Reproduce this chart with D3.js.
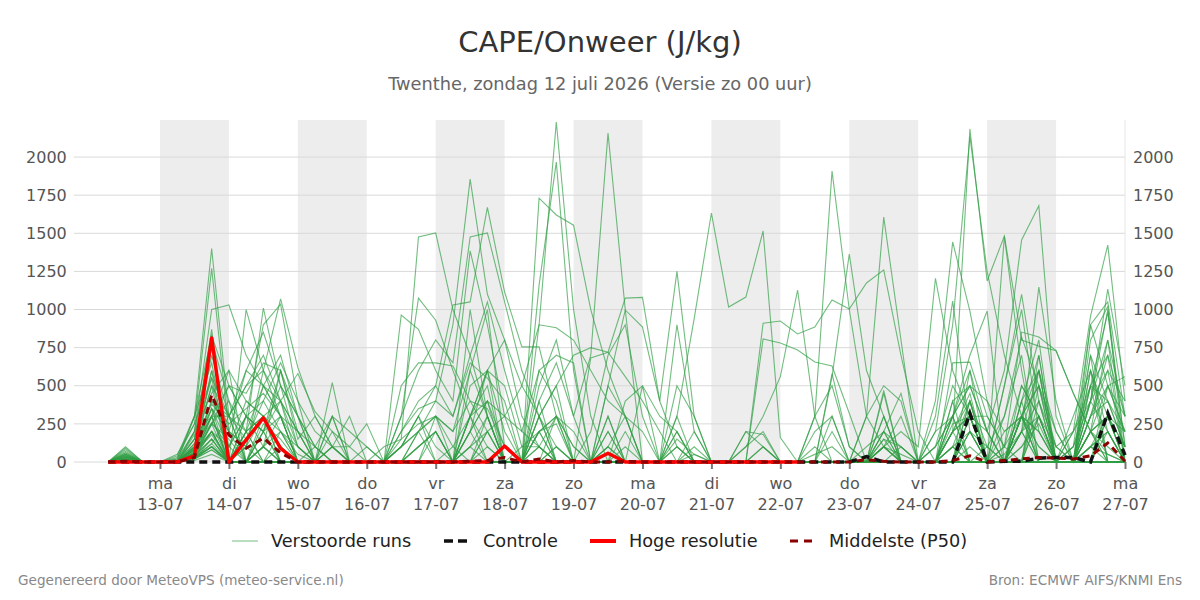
<!DOCTYPE html>
<html><head><meta charset="utf-8">
<script src="https://cdn.jsdelivr.net/npm/d3@7"></script>
<style>body{margin:0;background:#fff}svg{display:block;font-family:"DejaVu Sans",sans-serif}</style>
</head><body><svg id="c" width="1200" height="600"></svg>
<script>
// ---------- data ----------
const title = "CAPE/Onweer (J/kg)";
const subtitle = "Twenthe, zondag 12 juli 2026 (Versie zo 00 uur)";
const footerLeft = "Gegenereerd door MeteoVPS (meteo-service.nl)";
const footerRight = "Bron: ECMWF AIFS/KNMI Ens";
const legendLabels = ["Verstoorde runs", "Controle", "Hoge resolutie", "Middelste (P50)"];
const weekdays = ["zo","ma","di","wo","do","vr","za"];
const yTicks = [0,250,500,750,1000,1250,1500,1750,2000];
const startTime = Date.UTC(2026,6,12,6);   // first value: 12-07 06 uur, step 6 uur
const stepHours = 6;
const dayTicks = [13,14,15,16,17,18,19,20,21,22,23,24,25,26,27];
const shadedDays = [13,15,17,19,21,23,25];

// ensemble members (J/kg), 6-hourly, 12-07 06h .. 27-07 00h
const members = [
[0,100,0, 0,40,300,1400, 300,150,400,200, 50,0,100,0, 0,100,150,1476, 1502,1000,700,300, 0,0,200,300, 100,0,50,0, 0,0,150,50, 0,0,100,200, 0,0,50,100, 0,0,200,100, 0,0,100,400, 0,50,200,300, 0,0,300,500, 200],
[0,80,0, 0,30,250,1270, 200,600,850,500, 100,0,300,0, 0,0,300,1075, 930,600,300,100, 0,0,100,0, 0,0,500,300, 0,0,900,200, 0,0,0,100, 0,0,300,1908, 1000,300,100,50, 0,0,200,2183, 1187,1482,800,760, 730,450,200,100, 0],
[0,60,0, 0,20,200,1000, 1030,700,500,300, 200,100,0,0, 0,0,964,870, 600,400,1385,900, 300,0,0,100, 0,0,200,0, 0,0,0,50, 0,0,100,300, 560,1128,300,0, 0,0,100,300, 0,0,650,655, 300,100,500,300, 0,100,400,200, 0],
[0,50,0, 0,10,150,870, 0,1000,600,300, 0,0,0,0, 0,0,100,300, 500,1030,1050,1670, 1115,755,755,300, 0,0,0,0, 0,0,100,0, 0,0,0,0, 0,0,0,200, 0,0,100,200, 100,1205,600,300, 300,100,0,0, 0,0,200,500, 300],
[0,40,0, 0,20,300,830, 500,300,900,1035, 400,200,100,0, 0,0,0,200, 400,900,1855,1100, 800,300,100,0, 0,0,0,0, 0,0,300,940, 1633,1016,1082,1515, 160,0,0,0, 0,100,200,0, 0,0,0,300, 0,0,0,400, 100,200,957,1423, 400],
[0,30,0, 0,0,200,800, 400,200,1010,500, 300,0,0,0, 0,0,300,600, 800,650,1476,1502, 1050,600,300,100, 0,0,200,0, 0,0,0,0, 0,0,0,910, 925,840,885,1062, 1003,1174,1260,700, 200,0,0,100, 0,0,200,0, 0,0,100,50, 0],
[0,20,0, 0,0,150,700, 300,500,600,1070, 620,300,100,100, 0,0,100,300, 100,0,200,400, 100,0,1730,1620, 1553,1000,600,300, 0,0,100,0, 0,0,0,807, 780,735,656,630, 320,0,0,100, 0,0,0,200, 0,0,100,300, 0,0,100,200, 0],
[0,10,0, 0,0,100,600, 200,0,300,400, 0,0,300,0, 0,0,0,100, 200,0,1000,300, 0,0,900,2230, 1000,300,0,0, 0,0,0,0, 0,0,0,0, 0,0,0,0, 0,300,1606,800, 0,0,0,0, 0,1480,600,0, 0,0,0,0, 0],
[0,5,0, 0,0,80,500, 0,0,0,100, 0,0,0,0, 0,0,0,0, 300,200,600,1000, 100,0,1160,1967, 600,0,0,0, 0,0,0,200, 0,0,0,0, 0,0,0,0, 0,0,0,0, 0,0,0,300, 200,600,1456,1680, 300,0,0,0, 0],
[0,70,0, 0,0,300,650, 100,400,300,200, 0,0,520,0, 0,0,0,0, 0,0,300,600, 0,0,500,800, 300,700,2157,1000, 0,0,300,0, 0,0,0,0, 0,0,0,0, 0,0,0,0, 0,300,1055,200, 0,0,0,700, 0,0,400,1134, 500],
[0,90,0, 0,50,250,550, 0,200,500,700, 300,0,0,0, 0,0,0,0, 0,0,0,0, 0,0,0,0, 0,0,500,997, 885,400,1250,300, 0,0,0,0, 0,0,0,0, 0,0,300,0, 0,0,0,0, 0,0,0,0, 0,0,400,800, 0],
[0,40,0, 0,0,200,450, 600,400,300,0, 0,0,200,0, 0,0,100,200, 300,100,0,0, 0,0,300,500, 700,750,720,560, 400,200,0,0, 0,0,0,0, 0,0,0,0, 0,0,0,0, 0,100,300,500, 400,200,300,100, 0,0,0,300, 100],
[0,30,0, 0,0,100,400, 300,600,500,400, 200,0,0,0, 0,0,0,100, 200,0,500,600, 200,0,300,500, 0,0,0,0, 0,0,0,0, 0,0,0,0, 0,0,0,560, 1364,600,300,0, 0,200,900,2135, 1250,700,300,100, 0,0,100,300, 0],
[0,20,0, 0,0,120,350, 0,0,200,600, 200,0,0,0, 0,0,0,0, 0,0,0,0, 0,0,0,0, 0,682,720,1075, 1080,400,100,0, 0,0,0,0, 0,0,0,0, 0,0,0,0, 0,0,0,300, 0,500,1100,400, 0,300,600,0, 0],
[0,50,0, 0,0,180,300, 500,300,200,400, 100,0,0,0, 0,0,500,650, 650,630,400,200, 0,0,0,0, 0,0,0,0, 0,0,0,0, 0,0,0,0, 0,0,0,0, 0,0,100,0, 0,0,400,500, 200,0,300,0, 0,100,500,700, 300],
[0,10,0, 0,0,60,250, 500,450,650,600, 150,300,100,0, 0,0,200,350, 400,300,650,550, 400,0,200,300, 100,0,300,0, 0,0,0,0, 0,0,0,0, 0,0,0,0, 0,0,100,0, 0,0,0,200, 0,0,300,500, 100,0,200,300, 200],
[0,0,0, 0,0,50,200, 100,300,400,650, 400,0,0,0, 0,0,0,0, 0,0,100,200, 300,500,900,880, 800,600,400,300, 0,0,0,0, 0,0,0,0, 0,0,0,0, 0,0,0,0, 0,0,0,400, 100,300,820,500, 200,0,300,600, 0],
[0,0,0, 0,0,40,150, 0,0,200,300, 0,0,0,0, 0,0,0,0, 0,0,100,300, 0,0,0,0, 0,0,0,0, 0,0,0,0, 0,0,0,0, 0,0,0,0, 0,300,500,400, 0,0,200,400, 0,0,300,600, 0,0,900,1050, 300],
[0,0,0, 0,0,30,120, 300,0,100,0, 0,0,0,0, 0,0,0,0, 0,0,0,0, 0,0,0,0, 0,0,0,0, 0,0,0,0, 0,0,0,0, 0,0,0,0, 0,0,0,0, 0,400,1443,990, 400,0,200,1148, 400,0,0,300, 0],
[0,0,0, 0,0,20,100, 0,0,0,0, 0,0,0,0, 0,0,0,0, 0,0,300,500, 0,0,0,0, 0,0,0,0, 0,0,0,0, 0,0,0,0, 0,0,0,0, 0,0,0,0, 0,0,300,700, 990,0,0,0, 0,0,500,980, 100],
[0,0,0, 0,0,50,350, 200,100,300,0, 0,0,0,0, 0,0,0,0, 0,0,0,0, 0,0,400,650, 300,0,0,0, 0,0,0,0, 0,0,0,0, 0,0,0,0, 0,0,0,0, 0,0,0,0, 0,100,852,820, 730,452,200,50, 0],
[0,0,0, 0,0,80,300, 0,300,100,200, 0,0,0,0, 0,0,0,0, 0,0,0,0, 0,0,0,0, 0,0,0,0, 0,0,500,300, 0,0,0,0, 0,0,0,0, 0,0,0,0, 0,0,0,0, 0,0,0,0, 0,0,0,500, 560],
[0,0,0, 0,0,60,200, 0,0,0,0, 0,0,0,0, 0,0,0,0, 0,0,0,0, 0,0,0,0, 0,0,0,0, 0,0,0,0, 0,0,0,0, 0,0,0,0, 0,0,0,0, 0,0,300,500, 200,0,400,600, 0,0,200,800, 300],
[0,30,0, 0,0,100,500, 300,200,300,100, 0,0,100,0, 0,0,200,400, 500,300,700,1050, 600,200,100,0, 0,0,100,300, 200,0,0,0, 0,0,200,100, 0,0,0,0, 0,0,0,0, 0,0,100,200, 0,0,300,200, 0,200,500,400, 100],
[0,20,0, 0,0,90,300, 600,0,200,0, 0,0,0,0, 0,0,0,200, 300,0,200,600, 800,500,300,0, 0,200,700,900, 300,0,0,0, 0,0,0,0, 0,0,0,0, 0,0,100,0, 0,0,200,300, 0,0,0,0, 0,0,600,300, 0],
[0,10,0, 0,0,50,250, 0,100,500,300, 0,0,0,0, 0,0,0,0, 0,100,300,400, 0,0,0,0, 0,0,300,0, 0,0,0,0, 0,0,0,0, 0,0,0,580, 100,0,300,0, 0,0,0,0, 0,300,700,0, 0,0,200,300, 100],
[0,0,0, 0,0,30,100, 0,200,0,0, 0,0,0,0, 0,0,0,0, 0,0,200,400, 300,200,600,700, 650,0,0,0, 0,0,0,0, 0,0,0,0, 0,0,0,0, 0,0,0,0, 0,0,200,300, 0,0,500,300, 100,0,700,400, 200],
[0,0,0, 0,0,20,80, 0,0,100,0, 0,0,0,0, 0,0,0,0, 0,0,0,0, 0,0,100,300, 0,0,0,0, 500,0,0,0, 0,0,0,0, 0,0,0,0, 0,0,0,0, 0,0,400,0, 0,0,300,0, 0,0,500,0, 0],
[0,0,0, 0,0,60,400, 200,100,600,400, 580,330,200,100, 250,0,0,0, 0,0,300,0, 0,0,0,0, 0,0,100,0, 0,0,0,0, 0,0,200,180, 0,0,0,0, 0,0,0,0, 0,100,500,300, 0,0,200,400, 0,0,0,200, 0],
[0,0,0, 0,0,80,350, 100,300,200,500, 300,100,300,200, 100,0,0,0, 0,0,0,200, 0,0,300,0, 0,0,0,0, 0,0,0,0, 0,0,0,0, 0,0,0,0, 0,0,0,0, 0,0,0,600, 200,0,0,0, 0,0,100,0, 0],
[0,50,0, 0,0,100,300, 300,500,700,400, 200,0,100,300, 0,0,0,0, 0,0,0,0, 0,0,0,100, 0,0,0,0, 0,0,0,0, 0,0,0,0, 0,0,0,0, 0,0,150,0, 0,0,0,0, 0,0,300,200, 0,200,400,600, 400],
[0,30,0, 0,0,70,200, 0,0,0,0, 0,0,0,0, 0,0,0,0, 0,0,0,0, 0,100,200,0, 0,0,0,0, 0,0,0,0, 0,0,0,0, 0,0,200,300, 0,0,450,0, 0,0,100,0, 0,0,0,300, 0,0,400,1000, 0],
[0,20,0, 0,0,40,150, 0,0,0,0, 0,0,0,0, 0,0,0,0, 0,0,0,0, 0,0,0,0, 0,0,0,0, 0,0,0,100, 0,0,0,0, 0,0,300,500, 100,0,470,0, 0,0,0,200, 100,0,0,0, 0,0,800,1020, 100],
[0,0,0, 0,0,30,250, 400,0,100,0, 0,0,0,0, 0,0,0,0, 0,0,0,300, 0,0,0,0, 0,0,0,400, 500,300,200,0, 0,0,0,0, 0,0,0,0, 0,0,0,0, 0,0,0,0, 0,0,400,800, 0,0,0,0, 0],
[0,0,0, 0,0,20,100, 0,0,0,0, 0,0,0,0, 0,0,0,0, 0,0,0,0, 0,0,0,0, 0,0,0,0, 0,0,0,0, 0,0,0,0, 0,0,0,0, 0,0,0,0, 0,0,200,0, 0,500,1000,200, 0,100,900,500, 200],
[0,0,0, 0,0,40,300, 0,0,0,200, 100,0,0,0, 0,0,0,0, 0,0,0,0, 0,0,0,0, 0,0,0,0, 0,0,0,0, 0,0,0,0, 0,0,0,0, 0,0,0,0, 0,200,300,0, 0,0,300,700, 0,0,300,700, 0],
[0,0,0, 0,0,10,50, 0,0,0,0, 0,0,0,0, 0,0,0,0, 0,0,0,200, 0,0,400,0, 0,0,0,0, 0,0,0,0, 0,0,0,0, 0,0,0,0, 0,0,200,450, 0,0,0,0, 0,0,200,0, 0,0,100,200, 0],
[0,0,0, 0,0,30,120, 0,200,300,100, 0,0,0,0, 0,0,0,0, 200,0,0,0, 0,0,200,0, 0,0,0,0, 0,0,200,0, 0,0,0,0, 0,0,0,0, 0,0,0,0, 0,0,0,0, 0,0,0,500, 0,0,0,0, 0],
[0,0,0, 0,0,20,80, 0,0,100,300, 0,0,0,0, 0,0,100,300, 0,0,0,0, 0,0,0,0, 0,0,0,200, 0,0,0,0, 0,0,0,0, 0,0,0,0, 0,0,100,0, 0,0,0,0, 0,0,0,0, 0,0,0,0, 0],
[0,0,0, 0,0,30,200, 0,0,0,0, 0,0,0,0, 0,0,0,0, 0,0,0,0, 0,0,0,0, 0,0,0,0, 0,0,0,0, 0,0,0,0, 0,0,0,0, 0,0,0,0, 0,0,300,600, 0,0,0,0, 0,0,200,0, 0],
[0,60,0, 0,0,120,380, 250,350,450,300, 100,0,0,0, 0,0,150,250, 300,200,400,350, 100,0,200,250, 0,0,100,0, 0,0,0,0, 0,0,0,0, 0,0,100,0, 0,0,150,100, 0,0,250,300, 0,0,400,0, 0,0,300,400, 100],
[0,40,0, 0,0,90,260, 100,0,250,150, 0,100,0,0, 100,0,0,100, 200,0,300,600, 500,100,100,0, 0,0,0,100, 0,0,200,0, 0,0,0,0, 0,0,0,300, 0,0,0,0, 0,100,300,0, 100,0,200,600, 0,0,200,300, 0],
[0,30,0, 0,0,150,550, 300,0,100,600, 300,100,0,0, 0,0,0,0, 0,0,100,0, 0,0,600,400, 0,0,0,0, 0,0,0,0, 0,0,0,100, 0,0,0,0, 0,0,0,0, 0,0,0,400, 0,200,300,0, 0,0,600,200, 0],
[0,20,0, 0,0,60,180, 0,100,0,0, 0,0,0,0, 0,0,100,200, 0,0,600,300, 0,0,0,300, 200,0,0,0, 0,0,0,0, 0,0,0,0, 0,0,0,0, 0,0,0,0, 0,0,200,450, 0,0,0,600, 200,0,700,0, 0],
[0,10,0, 0,0,40,300, 0,300,200,0, 0,0,0,0, 0,0,0,0, 0,0,0,0, 0,0,0,0, 0,0,0,0, 0,0,0,0, 0,0,0,0, 0,0,0,0, 0,0,200,0, 0,0,0,0, 0,100,300,500, 0,0,0,0, 0],
[0,0,0, 0,0,30,200, 0,200,0,0, 0,0,0,0, 0,0,0,0, 0,0,0,100, 0,0,0,0, 0,0,0,0, 0,0,0,0, 0,0,0,0, 0,0,0,0, 0,0,0,0, 0,0,100,0, 0,0,0,300, 0,0,200,0, 0],
[0,0,0, 0,0,50,250, 150,0,0,0, 0,0,0,0, 0,0,0,0, 0,0,200,0, 0,0,0,0, 0,0,0,0, 0,0,0,0, 0,0,0,0, 0,0,0,0, 0,0,0,0, 0,0,0,0, 0,0,0,0, 0,0,0,0, 0],
[0,0,0, 0,0,20,150, 0,0,0,0, 0,0,0,0, 0,0,0,0, 0,0,0,0, 0,0,0,0, 0,0,0,0, 0,0,0,0, 0,0,0,0, 0,0,0,0, 0,0,0,0, 0,0,0,0, 0,0,100,250, 0,0,0,0, 0],
[0,0,0, 0,0,40,600, 0,0,0,0, 0,0,0,0, 0,0,0,0, 0,0,0,0, 0,0,0,0, 0,0,0,0, 0,0,0,0, 0,0,0,0, 0,0,0,0, 0,0,0,0, 0,0,0,0, 0,0,0,0, 0,0,0,0, 0],
[0,0,0, 0,0,30,100, 0,0,0,0, 0,0,0,0, 0,0,0,0, 0,0,0,0, 0,0,0,0, 0,0,0,0, 0,0,0,0, 0,0,0,0, 0,0,0,0, 0,0,0,0, 0,0,0,0, 0,0,0,0, 0,0,0,0, 0]
];
const control = [0,0,0, 0,0,0,0, 0,0,0,0, 0,0,0,0, 0,0,0,0, 0,0,0,0, 0,0,0,0, 0,0,0,0, 0,0,0,0, 0,0,0,0, 0,0,0,0, 0,35,0,0, 0,0,0,320, 0,5,5,25, 30,30,0,320, 45];
const hres = [0,0,0, 0,0,40,813, 0,145,290,90, 0,0,0,0, 0,0,0,0, 0,0,0,0, 105,0,0,0, 0,0,57,0, 0,0,0,0, 0,0,0,0, 0,0];
const p50 = [0,5,0, 0,0,30,440, 177,90,157,60, 0,0,0,0, 0,0,0,0, 0,0,5,10, 30,0,20,0, 10,0,0,5, 0,0,0,0, 0,0,0,0, 0,0,0,0, 0,15,5,0, 0,0,10,40, 0,10,20,30, 25,20,40,125, 5];

// ---------- chart ----------
const svg = d3.select("#c");
const L = 73.8, R = 1125, T = 120, B = 462;
const day = d => new Date(Date.UTC(2026,6,d));
const x = d3.scaleUtc().domain([new Date(Date.UTC(2026,6,11,18)), day(27)]).range([L, R]);
const y = d3.scaleLinear().domain([0, 2243]).range([B, T]);
const tAt = i => new Date(startTime + i*stepHours*3600e3);

svg.append("g").selectAll("rect").data(shadedDays).join("rect")
  .attr("x", d => x(day(d))).attr("y", T)
  .attr("width", d => x(day(d+1)) - x(day(d))).attr("height", B - T)
  .attr("fill", "#ededed");

svg.append("g").selectAll("line").data(yTicks).join("line")
  .attr("x1", L).attr("x2", R).attr("y1", d => y(d)).attr("y2", d => y(d))
  .attr("stroke", "#d9d9d9").attr("stroke-width", 1);
svg.append("line").attr("x1", R).attr("x2", R).attr("y1", T).attr("y2", B)
  .attr("stroke", "#e6e6e6");

const yl = svg.append("g").attr("transform", `translate(${L},0)`)
  .call(d3.axisLeft(y).tickValues(yTicks).tickFormat(d3.format("d")).tickSize(0).tickPadding(7));
const yr = svg.append("g").attr("transform", `translate(${R},0)`)
  .call(d3.axisRight(y).tickValues(yTicks).tickFormat(d3.format("d")).tickSize(0).tickPadding(8));
[yl, yr].forEach(g => {
  g.select(".domain").remove();
  g.selectAll("text").attr("font-size", 16).attr("fill", "#555").attr("font-family", "DejaVu Sans");
});

const xa = svg.append("g").attr("transform", `translate(0,${B})`)
  .call(d3.axisBottom(x).tickValues(dayTicks.map(day)).tickSize(7).tickFormat(""));
xa.select(".domain").remove();
xa.selectAll(".tick line").attr("stroke", "#777").attr("stroke-width", 2);
xa.selectAll(".tick").append("text")
  .attr("fill", "#555").attr("font-size", 16).attr("font-family", "DejaVu Sans").attr("text-anchor", "middle")
  .each(function(d) {
    const t = d3.select(this);
    t.append("tspan").attr("x", 0).attr("y", 27).text(weekdays[d.getUTCDay()]);
    t.append("tspan").attr("x", 0).attr("y", 48).text(d3.utcFormat("%d-%m")(d));
  });

const line = d3.line().x((d, i) => x(tAt(i))).y(d => y(d));
const plot = svg.append("g");
plot.selectAll("path.m").data(members).join("path").attr("class", "m")
  .attr("d", line).attr("fill", "none").attr("stroke", "#2f9e44")
  .attr("stroke-opacity", 0.68).attr("stroke-width", 1.1);
plot.append("path").datum(control).attr("d", line).attr("fill", "none")
  .attr("stroke", "#111").attr("stroke-width", 3.5).attr("stroke-dasharray", "8,5");
plot.append("path").datum(hres).attr("d", line).attr("fill", "none")
  .attr("stroke", "#ff0000").attr("stroke-width", 3.5).attr("stroke-linejoin", "round");
plot.append("path").datum(p50).attr("d", line).attr("fill", "none")
  .attr("stroke", "#8b0000").attr("stroke-width", 3).attr("stroke-dasharray", "7,5");

// titles
svg.append("text").attr("x", 600).attr("y", 52).attr("text-anchor", "middle")
  .attr("font-size", 29).attr("fill", "#333").text(title);
svg.append("text").attr("x", 600).attr("y", 90).attr("text-anchor", "middle")
  .attr("font-size", 17.75).attr("fill", "#666").text(subtitle);

// legend
const legX = [232, 444, 590, 790];
const legStyles = [
  {stroke: "#2f9e44", w: 1, dash: null, op: 0.68},
  {stroke: "#111", w: 3.5, dash: "9,5", op: 1},
  {stroke: "#ff0000", w: 4, dash: null, op: 1},
  {stroke: "#8b0000", w: 3, dash: "8,6", op: 1}
];
const lg = svg.append("g").selectAll("g").data(legendLabels).join("g");
lg.append("line").attr("x1", (d, i) => legX[i]).attr("x2", (d, i) => legX[i] + 26)
  .attr("y1", 541).attr("y2", 541)
  .attr("stroke", (d, i) => legStyles[i].stroke).attr("stroke-width", (d, i) => legStyles[i].w)
  .attr("stroke-opacity", (d, i) => legStyles[i].op)
  .attr("stroke-dasharray", (d, i) => legStyles[i].dash);
lg.append("text").attr("x", (d, i) => legX[i] + 39).attr("y", 547)
  .attr("font-size", 17.7).attr("fill", "#222").text(d => d);

// footer
svg.append("text").attr("x", 18).attr("y", 585).attr("font-size", 13.6).attr("fill", "#888").text(footerLeft);
svg.append("text").attr("x", 1182).attr("y", 585).attr("text-anchor", "end").attr("font-size", 13.6).attr("fill", "#888").text(footerRight);
</script></body></html>
